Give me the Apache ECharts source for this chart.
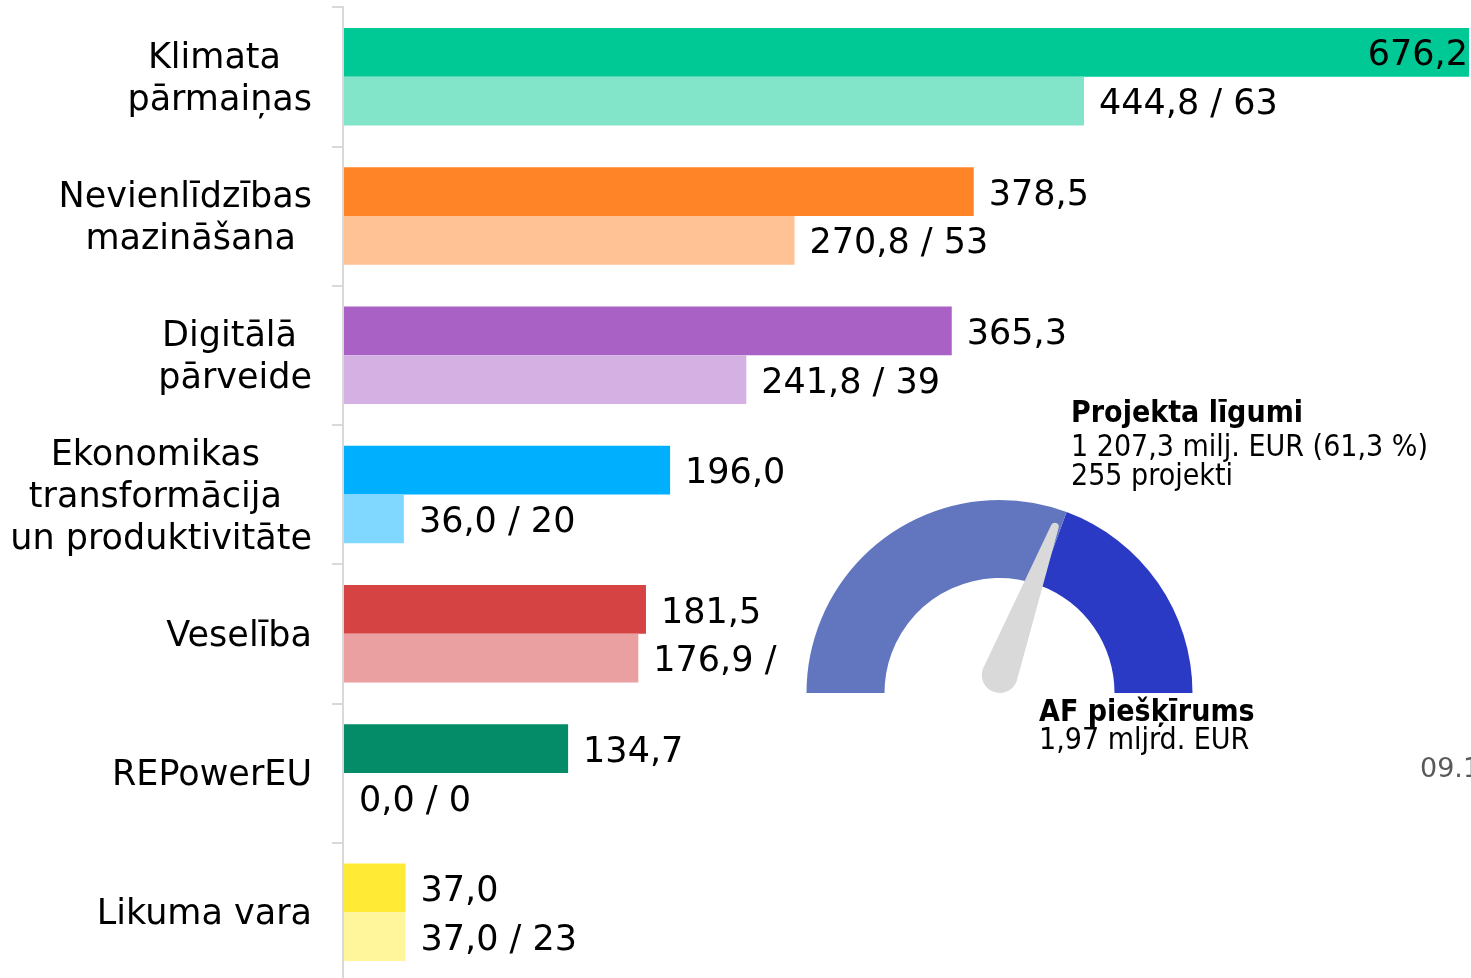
<!DOCTYPE html>
<html>
<head>
<meta charset="utf-8">
<script src="https://cdn.jsdelivr.net/npm/echarts@6/dist/echarts.min.js"></script>
<style>
  html, body { margin: 0; padding: 0; background: #fff; }
  #chart { width: 1471px; height: 978px; }
</style>
</head>
<body>
<div id="chart"></div>
<script>
const categories = [
  'Klimata\npārmaiņas',
  'Nevienlīdzības\nmazināšana',
  'Digitālā\npārveide',
  'Ekonomikas\ntransformācija\nun produktivitāte',
  'Veselība',
  'REPowerEU',
  'Likuma vara'
]
// milj. EUR
const allocated = [676.2, 378.5, 365.3, 196.0, 181.5, 134.7, 37.0]
const contracted = [444.8, 270.8, 241.8, 36.0, 176.9, 0.0, 37.0]
const projects = [63, 53, 39, 20, 57, 0, 23]
const darkColors = ['#01C995', '#FF8427', '#A961C6', '#00B0FF', '#D64343', '#048C68', '#FFEB35']
const lightColors = ['#82E4C9', '#FFC294', '#D5B0E3', '#80D7FF', '#EA9FA0', '#82C6B3', '#FFF59A']
const dateLabel = '09.1'

const FONT = '"DejaVu Sans", Verdana, sans-serif'
const fmt = v => v.toFixed(1).replace('.', ',')
const fmtThousands = v => {
  const [i, d] = v.toFixed(1).split('.')
  return i.replace(/\B(?=(\d{3})+(?!\d))/g, ' ') + ',' + d
}

const totalAllocated = allocated.reduce((a, b) => a + b, 0)
const totalContracted = contracted.reduce((a, b) => a + b, 0)
const totalProjects = projects.reduce((a, b) => a + b, 0)
const share = totalContracted / totalAllocated
const maxAllocated = Math.max(...allocated)

const ctx = document.createElement('canvas').getContext('2d')
function hasFont(name) {
  ctx.font = '40px "' + name + '", monospace'
  const a = ctx.measureText('mmmiiilllWW').width
  ctx.font = '40px monospace'
  return a !== ctx.measureText('mmmiiilllWW').width
}
// gauge captions use a narrower face if there is one
const condensed = hasFont('DejaVu Sans Condensed')
const GFONT = condensed ? '"DejaVu Sans Condensed", ' + FONT : FONT
const GSIZE = condensed ? 30 : 27

// category labels: lines centred (with trailing space), widest visible line right-aligned
ctx.font = '35px ' + FONT
const tw = s => ctx.measureText(s).width
function catLabel(name) {
  const lines = name.split('\n')
  const sp = tw(' ')
  const w = lines.map(tw)
  const p = w.map((x, i) => x + (i < lines.length - 1 ? sp : 0))
  const r = p.map((x, i) => x / 2 - (x - w[i]))
  const top = Math.max(...r)
  return lines.map((l, i) => `{p${Math.round(top - r[i])}|${l}}`).join('\n')
}
const rich = {}
for (let i = 0; i <= 80; i++) {
  rich['p' + i] = {
    align: 'right',
    padding: [0, i, 0, 0],
    fontSize: 35,
    lineHeight: 42,
    fontFamily: FONT,
    color: '#000'
  }
}

const labelStyle = {
  show: true,
  position: 'right',
  distance: 15,
  offset: [0, 4],
  fontSize: 35,
  fontFamily: FONT,
  color: '#000'
}

const needle = 'path://M14 4 A4 4 0 0 1 22 4 L36 162 A18 18 0 0 1 0 162 Z'
const gaugeText = (text, x, y, bold, color, size, family) => ({
  type: 'text',
  x: x,
  y: y,
  z: 30,
  style: {
    text: text,
    fontSize: size || GSIZE,
    fontFamily: family || GFONT,
    fontWeight: bold ? 'bold' : 'normal',
    fill: color || '#000',
    verticalAlign: 'middle'
  }
})

const chart = echarts.init(document.getElementById('chart'))
chart.setOption({
  animation: false,
  grid: {
    left: 344,
    right: 0,
    top: 7,
    bottom: -4,
    outerBoundsMode: 'none'
  },
  xAxis: {
    type: 'value',
    min: 0,
    max: 677.4,
    show: false
  },
  yAxis: {
    type: 'category',
    data: categories,
    inverse: true,
    offset: 1,
    axisLine: { show: true, onZero: false, lineStyle: { color: '#D9D9D9', width: 2 } },
    axisTick: { show: true, length: 11, lineStyle: { color: '#D9D9D9', width: 2 } },
    axisLabel: {
      interval: 0,
      align: 'right',
      margin: 31,
      padding: [6, 0, 0, 0],
      fontSize: 35,
      lineHeight: 42,
      fontFamily: FONT,
      color: '#000',
      formatter: catLabel,
      rich: rich
    },
    splitLine: { show: false }
  },
  series: [
    {
      name: 'Piešķirts',
      type: 'bar',
      barCategoryGap: '30%',
      barGap: '0%',
      z: 2,
      label: Object.assign({}, labelStyle, { formatter: p => fmt(p.value) }),
      data: allocated.map((v, i) => ({
        value: v,
        itemStyle: { color: darkColors[i] },
        label: v === maxAllocated ? { position: 'insideRight', distance: 1 } : undefined
      }))
    },
    {
      name: 'Līgumi',
      type: 'bar',
      barCategoryGap: '30%',
      barGap: '0%',
      z: 2,
      label: Object.assign({}, labelStyle, {
        formatter: p => fmt(p.value) + ' / ' + projects[p.dataIndex]
      }),
      data: contracted.map((v, i) => ({ value: v, itemStyle: { color: lightColors[i] } }))
    },
    {
      type: 'gauge',
      z: 20,
      center: [999.5, 693],
      radius: 193,
      startAngle: 180,
      endAngle: 0,
      min: 0,
      max: 100,
      axisLine: {
        lineStyle: { width: 78, color: [[share, '#6276C0'], [1, '#2B3AC4']] }
      },
      splitLine: { show: false },
      axisTick: { show: false },
      axisLabel: { show: false },
      anchor: { show: false },
      title: { show: false },
      detail: { show: false },
      pointer: {
        icon: needle,
        width: 36,
        length: 180,
        offsetCenter: [-6, 1],
        itemStyle: { color: '#D9D9D9' }
      },
      data: [{ value: share * 100 }]
    }
  ],
  graphic: [
    {
      type: 'rect',
      z: 10,
      shape: { x: 786, y: 402, width: 685, height: 390 },
      style: { fill: '#fff' }
    },
    gaugeText('Projekta līgumi', 1071, 414, true),
    gaugeText(fmtThousands(totalContracted) + ' milj. EUR (' + fmt(share * 100) + ' %)', 1071, 448),
    gaugeText(totalProjects + ' projekti', 1071, 477),
    gaugeText('AF piešķīrums', 1039, 713, true),
    gaugeText((totalAllocated / 1000).toFixed(2).replace('.', ',') + ' mljrd. EUR', 1039, 741),
    gaugeText(dateLabel, 1420, 770, false, '#595959', 27, FONT)
  ]
})
</script>
</body>
</html>
